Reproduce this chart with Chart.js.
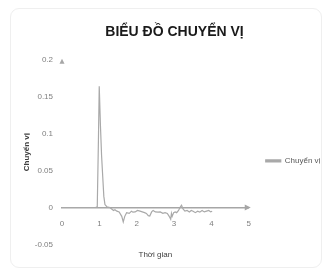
<!DOCTYPE html>
<html><head><meta charset="utf-8">
<script src="https://cdn.jsdelivr.net/npm/chart.js@4/dist/chart.umd.min.js"></script>
<style>
html,body{margin:0;padding:0;background:#fff;}
#wrap{position:relative;width:323px;height:274px;overflow:hidden;}
#frame{position:absolute;left:10px;top:8px;width:312px;height:260px;border:1px solid #efefef;border-radius:9px;box-sizing:border-box;}
canvas{position:absolute;left:0;top:0;}
</style></head><body>
<div id="wrap"><div id="frame"></div><canvas id="c" width="323" height="274"></canvas></div>
<script>
const chartTitle = 'BIỂU ĐỒ CHUYỂN VỊ';
const seriesName = 'Chuyển vị';
const xTitle = 'Thời gian';
const yTitle = 'Chuyển vị';
const xTicks = [0, 1, 2, 3, 4, 5];
const xTickLabels = ['0', '1', '2', '3', '4', '5'];
const yTicks = [-0.05, 0, 0.05, 0.1, 0.15, 0.2];
const yTickLabels = ['-0.05', '0', '0.05', '0.1', '0.15', '0.2'];
const timeValues = [0, 0.5, 0.9, 0.944, 0.975, 0.997, 1.03, 1.06, 1.088, 1.12, 1.15, 1.2, 1.28, 1.33, 1.38, 1.417, 1.47, 1.53, 1.6, 1.64, 1.68, 1.73, 1.8, 1.86, 1.9, 1.96, 2.02, 2.09, 2.15, 2.21, 2.26, 2.31, 2.35, 2.4, 2.44, 2.5, 2.57, 2.63, 2.7, 2.76, 2.82, 2.87, 2.91, 2.93, 2.95, 2.99, 3.03, 3.07, 3.12, 3.17, 3.2, 3.24, 3.29, 3.35, 3.41, 3.46, 3.51, 3.57, 3.63, 3.69, 3.75, 3.81, 3.87, 3.93, 3.98, 4.02];
const dispValues = [0, 0, 0, 0.001, 0.09, 0.164, 0.11, 0.07, 0.044, 0.015, 0.004, 0.001, 0, -0.002, -0.004, -0.003, -0.005, -0.006, -0.012, -0.0196, -0.012, -0.007, -0.008, -0.005, -0.0063, -0.006, -0.004, -0.005, -0.006, -0.007, -0.008, -0.011, -0.0116, -0.006, -0.004, -0.006, -0.0063, -0.006, -0.008, -0.007, -0.008, -0.012, -0.016, -0.008, -0.012, -0.007, -0.006, -0.007, -0.004, 0.001, 0.003, -0.002, -0.005, -0.004, -0.006, -0.004, -0.005, -0.007, -0.005, -0.0063, -0.004, -0.006, -0.005, -0.004, -0.006, -0.005];

const FONT = "'Liberation Sans Narrow', 'Liberation Sans', Arial, sans-serif";
const points = timeValues.map((t, i) => ({x: t, y: dispValues[i]}));

const arrowPlugin = {
  id: 'arrows',
  afterDraw(chart) {
    const {ctx} = chart;
    const x = chart.scales.x, y = chart.scales.y;
    const xe = x.getPixelForValue(x.max), y0 = y.getPixelForValue(0);
    const xl = x.getPixelForValue(0), yt = y.getPixelForValue(y.max);
    ctx.save();
    ctx.fillStyle = '#a6a6a6';
    ctx.beginPath();
    ctx.moveTo(xe + 2, y0); ctx.lineTo(xe - 4, y0 - 3); ctx.lineTo(xe - 4, y0 + 3); ctx.closePath(); ctx.fill();
    ctx.beginPath();
    ctx.moveTo(xl, yt - 1); ctx.lineTo(xl - 2.5, yt + 4); ctx.lineTo(xl + 2.5, yt + 4); ctx.closePath(); ctx.fill();
    ctx.restore();
  }
};

new Chart(document.getElementById('c'), {
  type: 'line',
  data: {
    datasets: [{
      label: seriesName,
      data: points,
      borderColor: '#a9a9a9',
      backgroundColor: '#a9a9a9',
      borderWidth: 1.2,
      pointRadius: 0,
      tension: 0,
      xAxisID: 'x',
      yAxisID: 'y'
    }]
  },
  options: {
    responsive: false,
    animation: false,
    devicePixelRatio: 1,
    layout: {padding: {left: 26, right: 0, top: 0, bottom: 0}},
    plugins: {
      title: {
        display: true, text: chartTitle, color: '#1a1a1a',
        font: {family: FONT, size: 14, weight: 'bold'},
        padding: {top: 24, bottom: 19}
      },
      legend: {
        display: true, position: 'right', fullSize: false,
        title: {display: true, text: '', padding: 4, font: {size: 8}},
        labels: {boxWidth: 15, boxHeight: 2, padding: 17, color: '#595959', font: {family: FONT, size: 8}}
      },
      tooltip: {enabled: false}
    },
    scales: {
      x: {
        type: 'linear', position: {y: 0}, min: 0, max: 5,
        afterBuildTicks: s => { s.ticks = xTicks.map(v => ({value: v})); },
        ticks: {padding: 12, color: '#7f7f7f', font: {family: FONT, size: 8},
          callback: (v) => xTickLabels[xTicks.indexOf(v)]},
        grid: {display: false, drawTicks: false},
        border: {display: true, color: '#a6a6a6', width: 1.5}
      },
      x2: {
        type: 'linear', position: 'bottom', min: 0, max: 1,
        ticks: {display: false},
        grid: {display: false, drawTicks: false},
        border: {display: false},
        title: {display: true, text: xTitle, color: '#404040', font: {family: FONT, size: 8}, padding: {top: 6, bottom: 14}}
      },
      y: {
        type: 'linear', position: 'left', min: -0.05, max: 0.2,
        afterBuildTicks: s => { s.ticks = yTicks.map(v => ({value: v})); },
        afterFit: s => { s.width = 36; },
        ticks: {padding: 9, color: '#7f7f7f', font: {family: FONT, size: 8},
          callback: (v) => yTickLabels[yTicks.indexOf(v)]},
        grid: {display: false, drawTicks: false},
        border: {display: false},
        title: {display: true, text: yTitle, color: '#404040', font: {family: FONT, size: 8, weight: 'bold'}, padding: {top: -4, bottom: 0}}
      }
    }
  },
  plugins: [arrowPlugin]
});
</script>
</body></html>
